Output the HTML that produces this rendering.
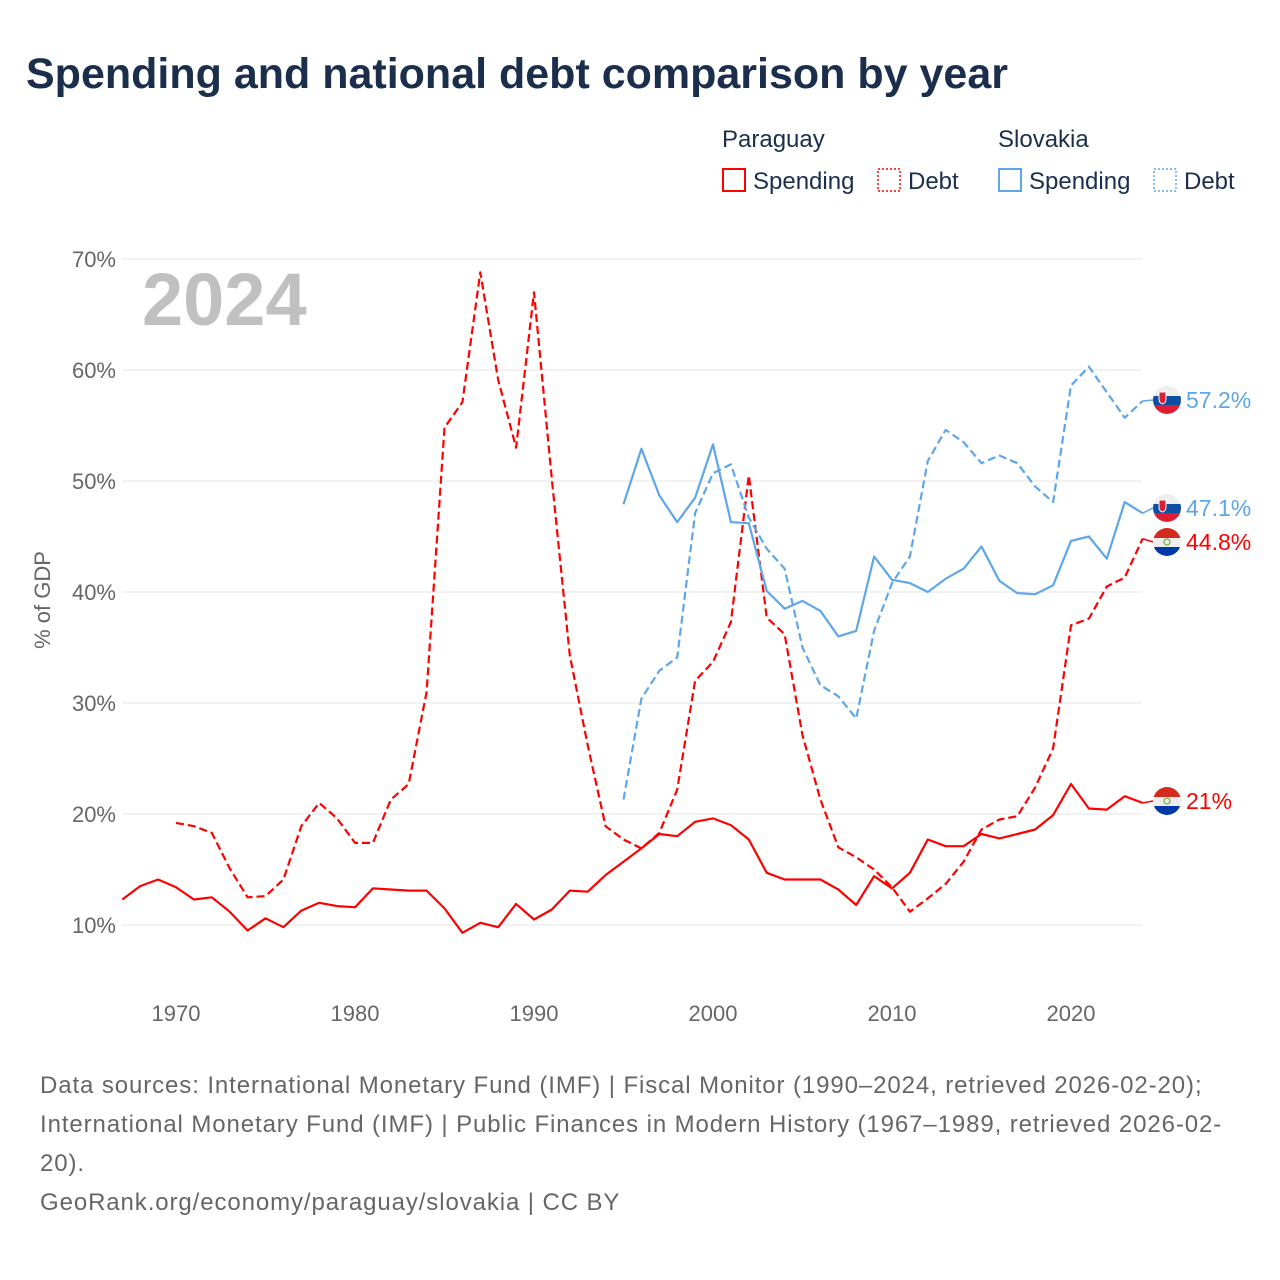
<!DOCTYPE html>
<html><head><meta charset="utf-8"><style>
body{margin:0;background:#fff;width:1280px;height:1280px;overflow:hidden;font-family:"Liberation Sans",sans-serif;}
.title{position:absolute;left:26px;top:50px;font-size:43px;font-weight:bold;color:#1b2f4d;letter-spacing:0px}
.footer{position:absolute;left:40px;top:1066px;font-size:24px;line-height:39px;color:#666;width:1230px;letter-spacing:0.9px}
</style></head><body>
<div class="title">Spending and national debt comparison by year</div>
<svg id="chart" width="1280" height="1050" style="position:absolute;left:0;top:0"></svg>
<div class="footer">Data sources: International Monetary Fund (IMF) | Fiscal Monitor (1990–2024, retrieved 2026-02-20);<br>International Monetary Fund (IMF) | Public Finances in Modern History (1967–1989, retrieved 2026-02-<br>20).<br>GeoRank.org/economy/paraguay/slovakia | CC BY</div>
<script>
const pySpendYears=[1967,2024];
const pySpending=[12.3,13.5,14.1,13.4,12.3,12.5,11.2,9.5,10.6,9.8,11.3,12.0,11.7,11.6,13.3,13.2,13.1,13.1,11.5,9.3,10.2,9.8,11.9,10.5,11.4,13.1,13.0,14.5,15.7,16.9,18.2,18.0,19.3,19.6,19.0,17.7,14.7,14.1,14.1,14.1,13.2,11.8,14.4,13.3,14.7,17.7,17.1,17.1,18.2,17.8,18.2,18.6,19.9,22.7,20.5,20.4,21.6,21.0];
const pyDebtStart=1970;
const pyDebt=[19.2,18.9,18.3,15.1,12.5,12.6,14.1,18.9,21.0,19.6,17.4,17.4,21.3,22.7,31.0,54.8,57.1,68.8,59.1,53.0,67.0,50.1,34.3,26.2,18.9,17.7,16.9,18.3,22.2,32.0,33.7,37.3,50.5,37.7,36.2,27.1,21.3,17.0,16.1,15.0,13.4,11.2,12.4,13.7,15.7,18.6,19.5,19.8,22.4,25.9,37.0,37.6,40.5,41.3,44.8];
const skStart=1995;
const skSpending=[47.9,52.9,48.7,46.3,48.5,53.3,46.3,46.2,40.1,38.5,39.2,38.3,36.0,36.5,43.2,41.1,40.8,40.0,41.2,42.1,44.1,41.0,39.9,39.8,40.6,44.6,45.0,43.0,48.1,47.1];
const skDebt=[21.3,30.4,32.9,34.1,47.1,50.7,51.5,46.7,43.9,42.1,35.0,31.6,30.6,28.6,36.5,40.8,43.2,51.8,54.6,53.5,51.6,52.3,51.6,49.5,48.1,58.6,60.3,58.0,55.7,57.2];
const yTicks=[10,20,30,40,50,60,70];
const xTicks=[1970,1980,1990,2000,2010,2020];
const endLabels=["57.2%","47.1%","44.8%","21%"];

const NS="http://www.w3.org/2000/svg";
const svg=document.getElementById('chart');
const X=y=>176+(y-1970)*17.9;
const Y=v=>925-(v-10)*11.1;
function mk(t,a){const e=document.createElementNS(NS,t);for(const k in a)e.setAttribute(k,a[k]);svg.appendChild(e);return e;}
yTicks.forEach(t=>{
 const g=mk('line',{x1:122,x2:1142,y1:Y(t),y2:Y(t),stroke:'#e6e6e6','stroke-width':1});
 
 
 const l=mk('text',{x:116,y:Y(t)+8,'text-anchor':'end','font-size':22,fill:'#666'});
 l.textContent=t+'%';
 
 
});
xTicks.forEach(t=>{
 const l=mk('text',{x:X(t),y:1021,'text-anchor':'middle','font-size':22,fill:'#666'});
 l.textContent=t;
 
 
});
const yt=mk('text',{x:0,y:0,transform:'translate(50,600) rotate(-90)','text-anchor':'middle','font-size':22,fill:'#666'});
yt.textContent='% of GDP';


const wm=mk('text',{x:142,y:325,'font-size':74,'font-weight':'bold',fill:'#c0c0c0'});
wm.textContent='2024';


function series(vals,start,color,dash,name){
 const d=vals.map((v,i)=>(i?'L':'M')+X(start+i).toFixed(1)+','+Y(v).toFixed(1)).join(' ');
 const p=mk('path',{d:d,fill:'none',stroke:color,'stroke-width':2.2,'stroke-dasharray':dash?'8,4':'none','stroke-linejoin':'round'});
 
 
}
series(pySpending,pySpendYears[0],'#ff0000',false,'paraguay-spending-line');
series(pyDebt,pyDebtStart,'#ff0000',true,'paraguay-debt-line');
series(skSpending,skStart,'#5ea6ea',false,'slovakia-spending-line');
series(skDebt,skStart,'#5ea6ea',true,'slovakia-debt-line');
function flag(cx,cy,sk,name){
 const g=document.createElementNS(NS,'g');svg.appendChild(g);
 
 
 const id='c'+Math.round(cy);
 g.innerHTML=`<clipPath id="${id}"><circle cx="${cx}" cy="${cy}" r="14"/></clipPath><g clip-path="url(#${id})">`+
 (sk?`<rect x="${cx-14}" y="${cy-14}" width="28" height="10" fill="#eee"/><rect x="${cx-14}" y="${cy-4}" width="28" height="9" fill="#0b4ea2"/><rect x="${cx-14}" y="${cy+5}" width="28" height="9" fill="#dc1e35"/><path d="M${cx-8} ${cy-8}h7v7q0,4-3.5,5q-3.5-1-3.5-5z" fill="#dc1e35" stroke="#fff" stroke-width="1"/>`
 :`<rect x="${cx-14}" y="${cy-14}" width="28" height="10" fill="#d52b1e"/><rect x="${cx-14}" y="${cy-4}" width="28" height="9" fill="#eee"/><rect x="${cx-14}" y="${cy+5}" width="28" height="9" fill="#0038a8"/><circle cx="${cx}" cy="${cy}" r="3" fill="none" stroke="#7a3" stroke-width="1.2"/>`)+`</g>`;
}
const ends=[[skDebt[29],true,'#5ea6ea'],[skSpending[29],true,'#5ea6ea'],[pyDebt[54],false,'#ff0000'],[pySpending[57],false,'#ff0000']];
ends.forEach((e,i)=>{
 const cy=[400,508,542,801][i];
 mk('line',{x1:X(2024),x2:1153,y1:Y(e[0]),y2:cy,stroke:e[2],'stroke-width':1.5});
 flag(1167,cy,e[1],'end-flag-'+i);
 const t=mk('text',{x:1186,y:cy+8,'font-size':23,fill:e[2]});
 t.textContent=endLabels[i];
 
 
});
function ltext(x,y,s,name){const t=mk('text',{x:x,y:y,'font-size':24,fill:'#1b2f4d'});t.textContent=s;
 
 }
ltext(722,147,'Paraguay','legend-group-paraguay');
ltext(998,147,'Slovakia','legend-group-slovakia');
[[722,'#ff0000',false,'Spending',753],[877,'#ff0000',true,'Debt',908],[998,'#5ea6ea',false,'Spending',1029],[1153,'#5ea6ea',true,'Debt',1184]].forEach((l,i)=>{
 const r=mk('rect',{x:l[0]+1,y:169,width:22,height:22,fill:'none',stroke:l[1],'stroke-width':l[2]?1.5:2,'stroke-dasharray':l[2]?'2,2':'none'});
 
 
 ltext(l[4],189,l[3],'legend-entry-'+i);
});
</script>
</body></html>
